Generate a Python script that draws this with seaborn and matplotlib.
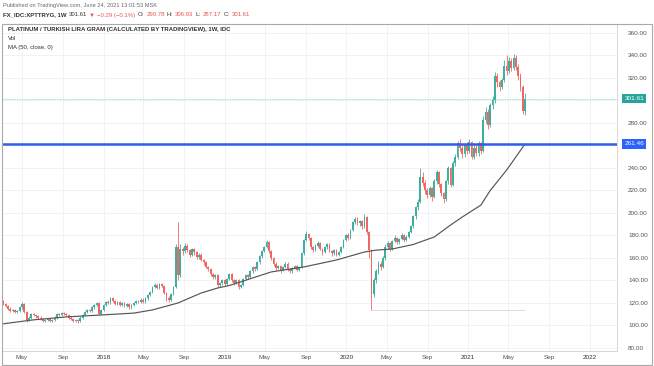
import pandas as pd
import numpy as np
import matplotlib
matplotlib.use("Agg")
import matplotlib.pyplot as plt
import matplotlib.transforms as mtransforms
from matplotlib.patches import Rectangle
import seaborn as sns

# ------------------------
# Data (weekly candles, first week 2017-03-06)
# ------------------------
FIRST_WEEK = "2017-03-06"
FIRST_OPEN = 122

close = [
    119, 117, 115, 113, 114, 112, 113, 116, 119, 112,
    105, 107, 110, 109, 108, 107, 106, 104, 105, 106,
    104, 105, 107, 110, 109, 111, 110, 109, 107, 106,
    104, 105, 104, 107, 109, 112, 114, 113, 116, 118,
    120, 110, 114, 118, 121, 120, 124, 122, 119, 121,
    118, 120, 117, 119, 116, 118, 120, 122, 121, 123,
    121, 124, 127, 130, 134, 136, 133, 137, 135, 129,
    124, 123, 128, 134, 170, 145, 168, 166, 171, 167,
    163, 168, 165, 161, 163, 158, 156, 152, 150, 146,
    143, 145, 136, 138, 140, 137, 141, 146, 140, 138,
    140, 134, 136, 141, 145, 143, 148, 152, 150, 156,
    162, 166, 170, 174, 166, 160, 155, 151, 153, 149,
    152, 155, 150, 148, 151, 153, 149, 152, 164, 176,
    181, 178, 170, 167, 171, 173, 168, 165, 170, 172,
    166, 164, 167, 163, 165, 170, 176, 180, 178, 185,
    192, 195, 191, 193, 188, 196, 183, 167, 128, 140,
    148, 155, 152, 160, 170, 173, 168, 175, 178, 174,
    177, 180, 176, 179, 183, 188, 197, 205, 210, 232,
    227, 220, 216, 222, 214, 228, 236, 226, 218, 212,
    228, 240, 225, 244, 250, 262, 258, 252, 260, 255,
    263, 250, 258, 253, 262, 255, 283, 290, 278, 296,
    300, 322, 316, 312, 318, 331, 326, 335, 329, 338,
    330, 322, 312, 290.78, 301.61,
]

high = [
    123, 120, 118, 116, 115, 115, 114, 117, 121, 120,
    113, 108, 111, 111, 110, 109, 108, 107, 106, 107,
    107, 106, 108, 111, 111, 112, 112, 111, 110, 108,
    107, 106, 106, 108, 110, 113, 115, 115, 117, 119,
    121, 121, 115, 119, 122, 123, 125, 125, 123, 122,
    122, 121, 121, 120, 120, 119, 121, 123, 123, 124,
    124, 125, 128, 131, 135, 138, 137, 138, 138, 136,
    130, 126, 129, 135, 172, 192, 172, 170, 173, 172,
    168, 169, 169, 166, 164, 164, 159, 157, 153, 151,
    147, 146, 146, 139, 141, 141, 142, 147, 147, 141,
    141, 141, 137, 142, 146, 146, 149, 153, 153, 157,
    163, 167, 171, 176, 175, 167, 161, 156, 154, 154,
    153, 156, 156, 151, 152, 154, 154, 153, 165, 177,
    184, 182, 179, 171, 172, 175, 174, 169, 171, 173,
    173, 167, 168, 168, 166, 171, 177, 181, 182, 186,
    193, 196, 196, 194, 194, 199, 197, 184, 168, 142,
    150, 157, 157, 162, 172, 175, 174, 176, 180, 179,
    178, 182, 181, 180, 184, 189, 198, 206, 212, 240,
    236, 229, 222, 224, 223, 230, 238, 237, 227, 219,
    229, 242, 241, 246, 252, 264, 266, 260, 262, 263,
    266, 264, 260, 261, 264, 263, 286, 294, 292, 298,
    304, 325, 324, 318, 320, 336, 340, 339, 338, 341,
    340, 332, 324, 314, 306.93,
]

low = [
    118, 116, 114, 112, 112, 111, 111, 112, 115, 111,
    103, 104, 106, 108, 107, 106, 105, 103, 103, 104,
    103, 103, 104, 106, 108, 108, 109, 108, 106, 105,
    103, 103, 102, 103, 106, 108, 111, 112, 112, 115,
    117, 109, 109, 113, 117, 119, 119, 121, 118, 118,
    117, 117, 116, 116, 115, 115, 117, 119, 120, 120,
    120, 120, 123, 126, 129, 133, 132, 132, 134, 128,
    122, 121, 122, 127, 133, 140, 143, 163, 164, 165,
    161, 162, 163, 159, 159, 157, 154, 151, 148, 144,
    141, 141, 134, 134, 136, 135, 136, 140, 139, 136,
    137, 132, 133, 135, 140, 141, 142, 147, 148, 149,
    155, 160, 165, 169, 164, 158, 153, 149, 150, 147,
    148, 151, 148, 147, 147, 150, 148, 148, 151, 163,
    175, 176, 168, 165, 166, 170, 167, 163, 164, 168,
    165, 162, 163, 162, 162, 164, 169, 175, 176, 177,
    184, 190, 189, 188, 186, 187, 181, 160, 114, 125,
    138, 146, 149, 151, 158, 168, 166, 167, 174, 172,
    172, 176, 174, 175, 178, 182, 187, 195, 203, 209,
    224, 217, 213, 214, 211, 213, 226, 223, 215, 209,
    211, 226, 223, 224, 242, 248, 255, 249, 250, 252,
    253, 248, 248, 251, 251, 252, 254, 280, 275, 276,
    292, 298, 312, 308, 310, 316, 323, 324, 326, 327,
    327, 318, 308, 288, 287.17,
]

# 50-week moving average
ma_dates = [
    "2017-03-06", "2017-06-05", "2017-09-11", "2017-12-25", "2018-04-02",
    "2018-05-28", "2018-08-13", "2018-10-22", "2018-12-10", "2019-01-14",
    "2019-05-20", "2019-08-26", "2019-12-02", "2020-02-24", "2020-03-30",
    "2020-05-18", "2020-07-20", "2020-09-21", "2020-11-09", "2020-12-14",
    "2021-02-08", "2021-03-08", "2021-04-26", "2021-06-21",
]
ma_values = [
    101.5, 105.0, 107.6, 109.3, 111.0,
    113.8, 120.0, 128.9, 133.3, 135.5,
    147.6, 152.0, 158.2, 165.3, 167.0,
    168.0, 172.0, 178.7, 189.3, 196.4,
    207.0, 220.0, 238.0, 261.5,
]

LAST_PRICE = 301.61
LEVEL = 261.46
LOW_MARK = 114.0

y_ticks = [80, 100, 120, 140, 160, 180, 200, 220, 240, 260, 280, 300, 320, 340, 360]
x_tick_dates = ["2017-05-01", "2017-09-01", "2018-01-01", "2018-05-01", "2018-09-01",
                "2019-01-01", "2019-05-01", "2019-09-01", "2020-01-01", "2020-05-01",
                "2020-09-01", "2021-01-01", "2021-05-01", "2021-09-01", "2022-01-01"]
x_tick_labels = ["May", "Sep", "2018", "May", "Sep", "2019", "May", "Sep", "2020",
                 "May", "Sep", "2021", "May", "Sep", "2022"]

# ------------------------
# Build frame
# ------------------------
df = pd.DataFrame({"close": close, "high": high, "low": low})
df["date"] = pd.date_range(FIRST_WEEK, periods=len(df), freq="7D")
df["open"] = [FIRST_OPEN] + close[:-1]
df["up"] = df["close"] >= df["open"]

ma_df = pd.DataFrame({"date": pd.to_datetime(ma_dates), "ma": ma_values})

UP = "#3fae9f"
DOWN = "#f06663"
FONT = ["Liberation Sans", "DejaVu Sans"]

sns.set_style("white")
plt.rcParams["font.family"] = FONT

W, H = 654, 366
fig = plt.figure(figsize=(W / 100, H / 100), dpi=100)
fig.patch.set_facecolor("white")
ax = fig.add_axes([3 / W, (H - 351) / H, 614 / W, 327 / H])

# grid
for d in x_tick_dates:
    ax.axvline(pd.Timestamp(d), color="#eef0f4", lw=0.6, zorder=0)
for v in y_ticks:
    ax.axhline(v, color="#eef0f4", lw=0.6, zorder=0)

# candles
colors = np.where(df["up"], UP, DOWN)
ax.vlines(df["date"], df["low"], df["high"], colors=colors, lw=0.6, zorder=2)
body_lo = np.minimum(df["open"], df["close"])
body_h = np.maximum(np.abs(df["close"] - df["open"]), 0.5)
ax.bar(df["date"], body_h, bottom=body_lo, width=5.3, color=colors,
       linewidth=0, zorder=3)

# moving average
sns.lineplot(data=ma_df, x="date", y="ma", ax=ax, color="#555555", lw=0.85,
             zorder=4, legend=False)

# price lines
ax.axhline(LEVEL, color="#2f5fe8", lw=1.8, zorder=5)
ax.axhline(LAST_PRICE, color="#7fcfc3", lw=0.6, ls=(0, (1, 1)), zorder=1)
ax.hlines(LOW_MARK, df["date"].iloc[158], df["date"].iloc[-1],
          color="#d8d8d8", lw=0.6, zorder=1)

# axes limits / ticks
ax.set_xlim(pd.Timestamp("2017-03-05"), pd.Timestamp("2022-03-24"))
ax.set_ylim(77.3, 368)
ax.set_xlabel("")
ax.set_ylabel("")

ax.yaxis.tick_right()
shown = [v for v in y_ticks if v not in (260, 300)]
ax.set_yticks(shown)
ax.set_yticklabels([f"{v:.2f}" for v in shown])
ax.set_xticks(pd.to_datetime(x_tick_dates))
ax.set_xticklabels(x_tick_labels)
ax.tick_params(axis="y", length=0, pad=8, labelsize=4.6, labelcolor="#555555")
ax.tick_params(axis="x", length=0, pad=3, labelsize=4.6, labelcolor="#555555")
for lbl in ax.get_xticklabels():
    if lbl.get_text().isdigit():
        lbl.set_color("#333333")

for side in ["left", "top"]:
    ax.spines[side].set_visible(False)
for side in ["right", "bottom"]:
    ax.spines[side].set_color("#d6d6d6")
    ax.spines[side].set_linewidth(0.7)

# price tags on the right scale
blend = mtransforms.blended_transform_factory(ax.transAxes, ax.transData)
ax.text(1.012, LAST_PRICE, f"{LAST_PRICE:.2f}", transform=blend, fontsize=4.6,
        color="white", va="center", ha="left",
        bbox=dict(boxstyle="square,pad=0.35", fc="#26a69a", ec="none"))
ax.text(1.012, LEVEL, f"{LEVEL:.2f}", transform=blend, fontsize=4.6,
        color="white", va="center", ha="left",
        bbox=dict(boxstyle="square,pad=0.35", fc="#2962ff", ec="none"))

# outer frame
fig.patches.append(Rectangle((2 / W, 1 / H), 650 / W, (H - 25) / H,
                             transform=fig.transFigure, fill=False,
                             ec="#a9a9a9", lw=0.8))

# ------------------------
# Header text
# ------------------------
renderer = fig.canvas.get_renderer()


def chain(x, y, parts, size=4.3):
    for s, color, weight in parts:
        t = fig.text(x / W, 1 - y / H, s, color=color, fontsize=size,
                     fontweight=weight, va="center", ha="left", family=FONT)
        x = t.get_window_extent(renderer).x1 + 2.2


DARK = "#333333"
RED = "#ef5350"
chain(3, 5, [("Published on TradingView.com, June 24, 2021 13:01:53 MSK", "#666666", "normal")], size=4.1)
chain(3, 15, [
    ("FX_IDC:XPTTRYG, 1W", DARK, "bold"),
    ("301.61", DARK, "normal"),
    ("▼", RED, "normal"),
    ("−0.29 (−0.1%)", RED, "normal"),
    ("O:", DARK, "normal"), ("290.78", RED, "normal"),
    ("H:", DARK, "normal"), ("306.93", RED, "normal"),
    ("L:", DARK, "normal"), ("287.17", RED, "normal"),
    ("C:", DARK, "normal"), ("301.61", RED, "normal"),
])
chain(8, 29, [("PLATINUM / TURKISH LIRA GRAM (CALCULATED BY TRADINGVIEW), 1W, IDC", DARK, "bold")])
chain(8, 38, [("Vol", DARK, "normal")])
chain(8, 47, [("MA (50, close, 0)", DARK, "normal")])

fig.savefig("out.png", dpi=100, facecolor="white")
